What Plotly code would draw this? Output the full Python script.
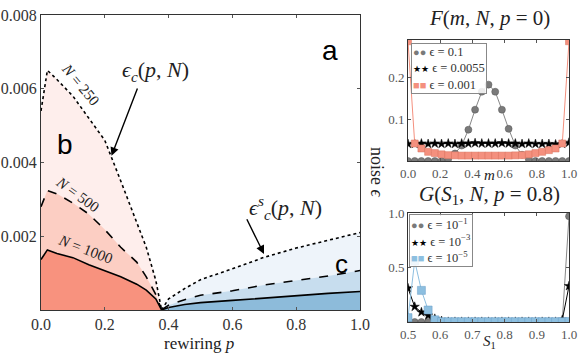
import plotly.graph_objects as go

# ---------------- data ----------------
p_left = [0, 0.02, 0.05, 0.1, 0.15, 0.2, 0.25, 0.3, 0.33, 0.36, 0.378]
eps_left_250 = [0.0054, 0.0065, 0.00625, 0.0058, 0.0052, 0.0046, 0.0035, 0.0024, 0.0017, 0.0008, 0.0]
eps_left_500 = [0.0028, 0.00324, 0.00315, 0.0029, 0.0026, 0.00218, 0.0017, 0.0013, 0.0009, 0.00042, 0.0]
eps_left_1000 = [0.00137, 0.00163, 0.00153, 0.00142, 0.00123, 0.00106, 0.0009, 0.0007, 0.00054, 0.0003, 0.0]

p_right = [0.378, 0.4, 0.45, 0.5, 0.6, 0.7, 0.8, 0.9, 1.0]
eps_right_250 = [0.0, 0.0003, 0.00058, 0.00082, 0.00112, 0.00143, 0.00168, 0.0019, 0.0021]
eps_right_500 = [0.0, 0.00013, 0.00028, 0.0004, 0.00052, 0.00068, 0.0008, 0.00092, 0.00107]
eps_right_1000 = [0.0, 0.00007, 0.00015, 0.0002, 0.00026, 0.00033, 0.00039, 0.00045, 0.0005]

m_vals = [i / 24 for i in range(25)]
F_eps_01 = [0, 0, 0, 0, 0, 0, 0.005, 0.018, 0.037, 0.075, 0.123, 0.166, 0.183,
            0.166, 0.123, 0.077, 0.037, 0.015, 0.005, 0, 0, 0, 0, 0, 0]
F_eps_00055 = [0.041, 0.041, 0.042, 0.041, 0.042, 0.041, 0.042, 0.041, 0.042, 0.042, 0.043, 0.042, 0.042,
               0.042, 0.043, 0.042, 0.042, 0.041, 0.042, 0.041, 0.041, 0.041, 0.040, 0.041, 0.044]
F_eps_0001 = [0.287, 0.042, 0.030, 0.022, 0.019, 0.016, 0.014, 0.0135, 0.013, 0.013, 0.013, 0.013, 0.013,
              0.013, 0.013, 0.013, 0.0135, 0.014, 0.016, 0.019, 0.022, 0.026, 0.030, 0.042, 0.287]

s_vals = [0.5 + i / 48 for i in range(25)]
G_eps_1e1 = [0] * 23 + [0.01, 0.97]
G_eps_1e3 = [0.31, 0.14, 0.09, 0.06, 0.03, 0.01] + [0.002] * 17 + [0.02, 0.33]
G_eps_1e5 = [0.04, 0.56, 0.29, 0.11, 0.02] + [0.003] * 19 + [0.005]

F_labels = ["ϵ = 0.1", "ϵ = 0.0055", "ϵ = 0.001"]
G_labels = ["ϵ = 10<sup>−1</sup>", "ϵ = 10<sup>−3</sup>", "ϵ = 10<sup>−5</sup>"]

x_ticks_main = [0, 0.2, 0.4, 0.6, 0.8, 1.0]
y_ticks_main = [0.002, 0.004, 0.006, 0.008]

# ---------------- figure ----------------
W, H = 582, 354
def px_x(px):
    return px / W
def px_y(py):
    return 1 - py / H

fig = go.Figure()

RED_L, RED_M, RED_D = "#FEEEEC", "#FCCEC3", "#F8927E"
BLU_L, BLU_M, BLU_D = "#EEF4FA", "#C7DDEE", "#8DBBDA"
GRAY_C, BLACK_C, SALMON_C, BLUE_C = "#7a7a7a", "#000000", "#F4907E", "#8DBFE0"
lw = 1.6

for xs, ys, dash, fc in [
    (p_left, eps_left_250, "dot", RED_L),
    (p_left, eps_left_500, "dash", RED_M),
    (p_left, eps_left_1000, "solid", RED_D),
    (p_right, eps_right_250, "dot", BLU_L),
    (p_right, eps_right_500, "dash", BLU_M),
    (p_right, eps_right_1000, "solid", BLU_D),
]:
    fig.add_trace(go.Scatter(x=xs, y=ys, mode="lines", fill="tozeroy", fillcolor=fc,
                             line=dict(color="black", width=lw, dash=dash),
                             showlegend=False, xaxis="x", yaxis="y"))

def series(xs, ys, name, symbol, color, lcolor, edge, ax, size=7):
    fig.add_trace(go.Scatter(x=xs, y=ys, mode="lines+markers", name=name, showlegend=False,
                             line=dict(color=lcolor, width=1),
                             marker=dict(symbol=symbol, size=size, color=color, line=dict(color=edge, width=0.5)),
                             xaxis="x" + ax, yaxis="y" + ax))

series(m_vals, F_eps_01, F_labels[0], "circle", GRAY_C, "#888888", "#555", "2")
series(m_vals, F_eps_00055, F_labels[1], "star", BLACK_C, "black", "black", "2")
series(m_vals, F_eps_0001, F_labels[2], "square", SALMON_C, SALMON_C, "#D9735F", "2")
series(s_vals, G_eps_1e1, G_labels[0], "circle", GRAY_C, "#888888", "#555", "3")
series(s_vals, G_eps_1e3, G_labels[1], "star", BLACK_C, "black", "black", "3")
series(s_vals, G_eps_1e5, G_labels[2], "square", BLUE_C, BLUE_C, "#6A9FC6", "3", size=8)

SERIF = "Liberation Serif"
SANS = "Liberation Sans"
axis_common = dict(showline=True, linecolor="#333", linewidth=1, mirror="ticks", ticks="inside",
                   ticklen=3, tickcolor="#555", showgrid=False, zeroline=False, automargin=False)
tf_main = dict(family=SERIF, size=16, color="#333")
tf_sub = dict(family=SERIF, size=13, color="#555")

fig.update_layout(
    template="none",
    width=W, height=H, margin=dict(l=0, r=0, t=0, b=0, autoexpand=False),
    paper_bgcolor="white", plot_bgcolor="white", showlegend=False,
    font=dict(family=SERIF, size=15, color="#333"),
    xaxis=dict(domain=[px_x(41), px_x(360)], range=[0, 1], tickvals=x_ticks_main, tickformat=".1f",
               anchor="y", tickfont=tf_main, **axis_common),
    yaxis=dict(domain=[px_y(310), px_y(15)], range=[0, 0.008], tickvals=y_ticks_main, tickformat=".3f",
               anchor="x", tickfont=tf_main, **axis_common),
    xaxis2=dict(domain=[px_x(408), px_x(569)], range=[0, 1], tickvals=x_ticks_main, tickformat=".1f",
                anchor="y2", tickfont=tf_sub, **axis_common),
    yaxis2=dict(domain=[px_y(161), px_y(40)], range=[0, 0.29], tickvals=[0.1, 0.2], tickformat=".1f",
                anchor="x2", tickfont=tf_sub, **axis_common),
    xaxis3=dict(domain=[px_x(408), px_x(569)], range=[0.5, 1.0], tickvals=[0.5, 0.6, 0.7, 0.8, 0.9, 1.0],
                tickformat=".1f", anchor="y3", tickfont=tf_sub, **axis_common),
    yaxis3=dict(domain=[px_y(322), px_y(213)], range=[0, 1.0], tickvals=[0.5, 1.0], tickformat=".1f",
                anchor="x3", tickfont=tf_sub, **axis_common),
)

ann = []
def text(xp, yp, t, size, family=SERIF, angle=0, color="#222", xanchor="center", yanchor="middle", **kw):
    ann.append(dict(x=px_x(xp), y=px_y(yp), xref="paper", yref="paper", text=t, showarrow=False,
                    font=dict(family=family, size=size, color=color), textangle=angle,
                    xanchor=xanchor, yanchor=yanchor, **kw))

# axis titles
text(199, 343, "rewiring <i>p</i>", 17)
text(377, 172, "noise <i>ϵ</i>", 18, angle=90)
text(489, 18, "<i>F</i>(<i>m</i>, <i>N</i>, <i>p</i> = 0)", 21)
text(489, 175, "<i>m</i>", 15)
text(489, 195, "<i>G</i>(<i>S</i><sub>1</sub>, <i>N</i>, <i>p</i> = 0.8)", 21)
text(489, 342, "<i>S</i><sub>1</sub>", 15)

# panel letters
text(330, 50, "a", 28, family=SANS, color="black")
text(65, 145, "b", 28, family=SANS, color="black")
text(341, 264, "c", 26, family=SANS, color="black")

# curve labels
text(155, 71, "<i>ϵ<sub>c</sub></i>(<i>p</i>, <i>N</i>)", 22)
text(285, 207, "<i>ϵ<sup>s</sup><sub>c</sub></i>(<i>p</i>, <i>N</i>)", 22)
text(80, 84, "<i>N</i> = 250", 15, angle=50)
text(77, 194, "<i>N</i> = 500", 15, angle=36)
text(85, 249, "<i>N</i> = 1000", 15, angle=21)

# legends (compact boxes like the original)
def legend_box(xp, yp, labels, glyphs, colors, gsizes):
    lines = [f"<span style='color:{c};font-size:{s}px'>{g}</span> {l}"
             for l, g, c, s in zip(labels, glyphs, colors, gsizes)]
    text(xp, yp, "<br>".join(lines), 12.5, color="#333", xanchor="left", yanchor="top", align="left",
         bgcolor="rgba(255,255,255,0.85)", bordercolor="#888", borderwidth=1, borderpad=1)

legend_box(411, 43, F_labels, ["●●", "★★", "■■"], [GRAY_C, BLACK_C, SALMON_C], [11, 9, 11])
legend_box(409, 214, G_labels, ["●●", "★★", "■■"], [GRAY_C, BLACK_C, BLUE_C], [11, 9, 11])

for tail, head in [((0.304, 0.00605), (0.221, 0.00418)), ((0.643, 0.0025), (0.699, 0.00152))]:
    ann.append(dict(x=head[0], y=head[1], ax=tail[0], ay=tail[1], xref="x", yref="y",
                    axref="x", ayref="y", text="", showarrow=True, arrowhead=2, arrowsize=1.2,
                    arrowwidth=1.4, arrowcolor="black"))

fig.update_layout(annotations=ann)
fig.write_html("out.html", config={"displayModeBar": False},
               post_script="document.body.style.margin='0';document.body.style.overflow='hidden';")
